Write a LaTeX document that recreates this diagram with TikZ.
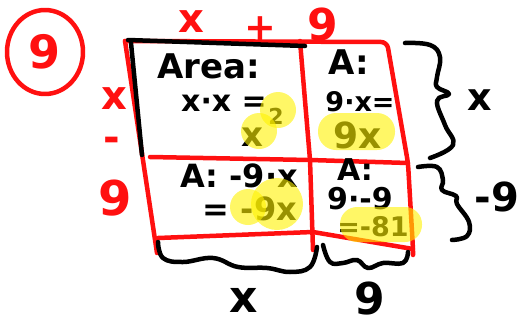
\documentclass[tikz,border=0pt]{standalone}
\usepackage{fontspec}
\setmainfont{DejaVu Sans}
\usepackage{xcolor}
\usepackage{tikz}
\usetikzlibrary{calc}
\definecolor{SketchRed}{HTML}{FF1010}
\definecolor{SketchInk}{HTML}{000000}
\definecolor{SketchMarker}{HTML}{FFF200}
\newcommand\handsize[1]{\fontsize{#1}{#1}\selectfont\bfseries}

\begin{document}
\begin{tikzpicture}[x=1pt,y=-1pt,line cap=round,line join=round,
    redline/.style={SketchRed,line width=4.5pt},
    inkline/.style={SketchInk,line width=4.5pt},
    redtext/.style={SketchRed,inner sep=0pt},
    inktext/.style={SketchInk,inner sep=0pt},
    marker/.style={SketchMarker,fill opacity=0.6}]
  \useasboundingbox (0,0) rectangle (525,327);
  % corners of the area model
  \coordinate (tl) at (125,41);
  \coordinate (tm) at (300,41);
  \coordinate (tr) at (387,42);
  \coordinate (ml) at (150,157);
  \coordinate (mm) at (310,160);
  \coordinate (mr) at (408,163);
  \coordinate (bl) at (158,238);
  \coordinate (bm) at (313,232);
  \coordinate (br) at (413,249);
  \draw[redline] (45,52) ellipse [x radius=38pt,y radius=42pt];
  \draw[redline,rounded corners=6pt] (tl) -- (tr) -- (mr) -- (br) -- (413,251);
  \draw[redline] (tl) -- (157,253);
  \draw[redline] (tm) -- (mm) -- (313,250);
  \draw[redline] (ml) -- (mm) -- (mr);
  \draw[redline] (bl) -- (bm) -- (br);
  \draw[inkline] (128,40) -- (305,46);
  \draw[inkline] (131,43) -- (142,155);
  % braces
  \draw[inkline] plot[smooth,tension=0.7] coordinates {(405,43) (430,45) (440,57) (437,77)
    (437,87) (449,94) (437,101) (445,125) (453,145) (430,158)};
  \draw[inkline] plot[smooth,tension=0.7] coordinates {(418,167) (437,167) (443,180)
    (442,190) (456,196) (457,204) (469,222) (467,236) (452,240)};
  \draw[inkline] plot[smooth,tension=0.7] coordinates {(158,242) (163,258) (183,262)
    (213,258) (238,267) (267,268) (290,272) (310,267) (317,247)};
  \draw[inkline] plot[smooth,tension=0.7] coordinates {(323,245) (330,262) (343,263)
    (357,260) (368,268) (383,263) (403,263) (408,252)};
  % red labels
  \foreach \name/\pos/\sz/\txt in {num/{45,52}/46/9, topx/{191,22}/40/x, plus/{260,29}/38/+,
      topnine/{323,25}/44/9, sidex/{114,99}/40/x, minus/{112,144}/40/-, sidenine/{115,198}/48/9}{
    \node[redtext,font=\handsize{\sz}] (\name) at (\pos) {\txt};
  }
  % black labels
  \foreach \name/\pos/\sz/\txt in {area/{209,66}/34/Area:, xx/{224,103}/30/x·x =,
      sq/{252,137}/34/x, sqexp/{276,116}/22/2, aone/{349,62}/34/A:, ninex/{360,102}/27/9·x=,
      ninexres/{358,135}/36/9x, atwo/{239,176}/32/A: -9·x, mnx/{250,209}/32/= -9x,
      athree/{355,170}/30/A:, nn/{360,199}/30/9·-9, res/{373,227}/27/=-81,
      rightx/{480,100}/38/x, rightnine/{497,197}/40/-9, botx/{244,300}/44/x, botnine/{370,298}/44/9}{
    \node[inktext,font=\handsize{\sz}] (\name) at (\pos) {\txt};
  }
  % highlighter
  \fill[marker] (278,110) circle [radius=18pt];
  \fill[marker] (259,131) circle [radius=18pt];
  \fill[marker,rounded corners=18pt] (318,113) rectangle (395,150);
  \fill[marker] (277,204) circle [radius=26pt];
  \fill[marker] (248,207) circle [radius=18pt];
  \fill[marker,rounded corners=17pt] (340,207) rectangle (422,242);
\end{tikzpicture}
\end{document}
